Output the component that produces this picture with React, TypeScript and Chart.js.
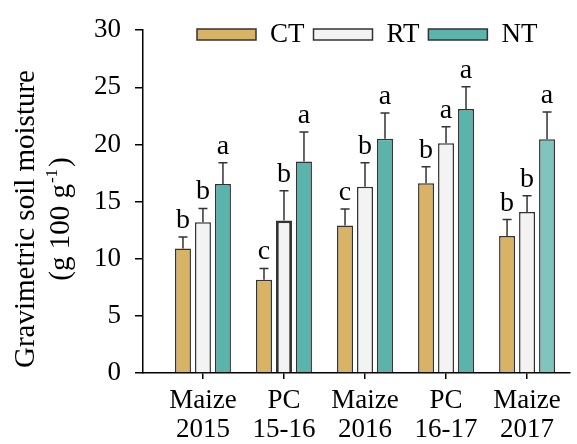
import React, { useEffect, useRef } from "react";
import { Chart, registerables } from "chart.js";

Chart.register(...registerables);

const categories: string[][] = [
  ["Maize", "2015"],
  ["PC", "15-16"],
  ["Maize", "2016"],
  ["PC", "16-17"],
  ["Maize", "2017"],
];
const seriesNames = ["CT", "RT", "NT"];
const ctValues = [10.9, 8.15, 12.9, 16.6, 12.0];
const ctErrors = [1.0, 1.0, 1.45, 1.45, 1.43];
const ctLetters = ["b", "c", "c", "b", "b"];
const rtValues = [13.2, 13.35, 16.3, 20.1, 14.1];
const rtErrors = [1.2, 2.6, 2.1, 1.45, 1.42];
const rtLetters = ["b", "b", "b", "a", "b"];
const ntValues = [16.55, 18.5, 20.5, 23.1, 20.45];
const ntErrors = [1.85, 2.6, 2.25, 1.95, 2.4];
const ntLetters = ["a", "a", "a", "a", "a"];
const yMin = 0;
const yMax = 30;
const yStep = 5;
const yTitle1 = "Gravimetric soil moisture";
const yTitle2a = "(g 100 g";
const yTitle2sup = "-1";
const yTitle2b = ")";

const FONT = '"Liberation Serif", "Times New Roman", serif';

const errorBarPlugin = {
  id: "errorBars",
  afterDatasetsDraw(chart: any) {
    const ctx = chart.ctx;
    const ys = chart.scales.y;
    chart.data.datasets.forEach((ds: any, di: number) => {
      const meta = chart.getDatasetMeta(di);
      meta.data.forEach((bar: any, i: number) => {
        const v = ds.data[i].y;
        const e = ds.errors[i];
        const top = ys.getPixelForValue(v + e);
        ctx.save();
        ctx.strokeStyle = "#333";
        ctx.lineWidth = 1.5;
        ctx.beginPath();
        ctx.moveTo(bar.x, bar.y);
        ctx.lineTo(bar.x, top);
        ctx.moveTo(bar.x - 4.5, top);
        ctx.lineTo(bar.x + 4.5, top);
        ctx.stroke();
        ctx.fillStyle = "#000";
        ctx.font = `28px ${FONT}`;
        ctx.textAlign = "center";
        ctx.textBaseline = "alphabetic";
        ctx.fillText(ds.letters[i], bar.x, top - 9);
        ctx.restore();
      });
    });
  },
};

const legendPlugin = {
  id: "customLegend",
  afterDraw(chart: any) {
    const ctx = chart.ctx;
    ctx.save();
    ctx.font = `27px ${FONT}`;
    ctx.textBaseline = "middle";
    ctx.textAlign = "left";
    let x = 197;
    const boxTop = 29;
    const boxW = 59;
    const boxH = 11;
    chart.data.datasets.forEach((ds: any) => {
      ctx.fillStyle = ds.legendColor;
      ctx.fillRect(x, boxTop, boxW, boxH);
      ctx.strokeStyle = "#333";
      ctx.lineWidth = 1.5;
      ctx.strokeRect(x, boxTop, boxW, boxH);
      ctx.fillStyle = "#000";
      const tx = x + boxW + 14;
      ctx.fillText(ds.label, tx, boxTop + boxH / 2 + 0.5);
      x = tx + ctx.measureText(ds.label).width + 9;
    });
    ctx.restore();
  },
};

const yTitlePlugin = {
  id: "yTitle",
  afterDraw(chart: any) {
    const ctx = chart.ctx;
    const cy = 219;
    ctx.save();
    ctx.fillStyle = "#000";
    ctx.textBaseline = "alphabetic";
    ctx.save();
    ctx.translate(34, cy);
    ctx.rotate(-Math.PI / 2);
    ctx.font = `29px ${FONT}`;
    ctx.textAlign = "center";
    ctx.fillText(yTitle1, 0, 0);
    ctx.restore();
    ctx.save();
    ctx.translate(69, cy);
    ctx.rotate(-Math.PI / 2);
    ctx.textAlign = "left";
    ctx.font = `29px ${FONT}`;
    const wa = ctx.measureText(yTitle2a).width;
    const wb = ctx.measureText(yTitle2b).width;
    ctx.font = `17px ${FONT}`;
    const ws = ctx.measureText(yTitle2sup).width;
    const total = wa + ws + 3 + wb;
    let x = -total / 2;
    ctx.font = `29px ${FONT}`;
    ctx.fillText(yTitle2a, x, 0);
    x += wa;
    ctx.font = `17px ${FONT}`;
    ctx.fillText(yTitle2sup, x + 1, -12);
    x += ws + 3;
    ctx.font = `29px ${FONT}`;
    ctx.fillText(yTitle2b, x, 0);
    ctx.restore();
    ctx.restore();
  },
};

export default function App() {
  const ref = useRef<HTMLCanvasElement | null>(null);
  useEffect(() => {
    if (!ref.current) return;
    Chart.defaults.font.family = FONT;
    Chart.defaults.color = "#000";
    const ntNormal = "#5ab4ac";
    const ntLight = "#80c5bd";
    const chart = new Chart(ref.current, {
      type: "bar",
      data: {
        datasets: [
          {
            label: seriesNames[0],
            data: ctValues.map((v, i) => ({ x: i, y: v })),
            backgroundColor: "#d8b365",
            borderColor: "#333",
            borderWidth: 1.5,
            errors: ctErrors,
            letters: ctLetters,
            legendColor: "#d8b365",
          } as any,
          {
            label: seriesNames[1],
            data: rtValues.map((v, i) => ({ x: i, y: v })),
            backgroundColor: "#f3f3f3",
            borderColor: "#333",
            borderWidth: (c: any) => (c.dataIndex === 1 ? 2.8 : 1.5),
            errors: rtErrors,
            letters: rtLetters,
            legendColor: "#f3f3f3",
          } as any,
          {
            label: seriesNames[2],
            data: ntValues.map((v, i) => ({ x: i, y: v })),
            backgroundColor: (c: any) => (c.dataIndex === 4 ? ntLight : ntNormal),
            borderColor: "#333",
            borderWidth: 1.5,
            errors: ntErrors,
            letters: ntLetters,
            legendColor: ntNormal,
          } as any,
        ],
      },
      options: {
        responsive: false,
        animation: false,
        categoryPercentage: 0.74,
        barPercentage: 0.8,
        layout: { padding: { top: 22, right: 7, left: 0, bottom: 0 } },
        plugins: {
          legend: { display: false },
          tooltip: { enabled: false },
        },
        scales: {
          x: {
            type: "linear",
            offset: false,
            min: -0.74,
            max: 4.53,
            afterBuildTicks: (s: any) => {
              s.ticks = categories.map((_, i) => ({ value: i }));
            },
            afterFit: (s: any) => {
              s.height = 71;
            },
            ticks: {
              callback: (v: any) => categories[v as number],
              font: { size: 27, family: FONT, lineHeight: 1.06 },
              color: "#000",
              padding: 8,
              autoSkip: false,
              maxRotation: 0,
              minRotation: 0,
            },
            grid: {
              display: true,
              offset: false,
              drawOnChartArea: false,
              drawTicks: true,
              tickLength: 6,
              color: "#000",
              lineWidth: 1.5,
            },
            border: { display: true, color: "#000", width: 1.5 },
          },
          y: {
            min: yMin,
            max: yMax,
            afterFit: (s: any) => {
              s.width = 143;
            },
            ticks: {
              stepSize: yStep,
              font: { size: 27, family: FONT },
              color: "#000",
              padding: 14,
            },
            grid: {
              display: true,
              drawOnChartArea: false,
              drawTicks: true,
              tickLength: 8,
              color: "#000",
              lineWidth: 1.5,
            },
            border: { display: true, color: "#000", width: 1.5 },
          },
        },
      } as any,
      plugins: [errorBarPlugin, legendPlugin, yTitlePlugin],
    });
    return () => chart.destroy();
  }, []);
  return (
    <div style={{ position: "fixed", left: 0, top: 0, width: 577, height: 444, background: "#fff" }}>
      <canvas ref={ref} width={577} height={444} />
    </div>
  );
}
